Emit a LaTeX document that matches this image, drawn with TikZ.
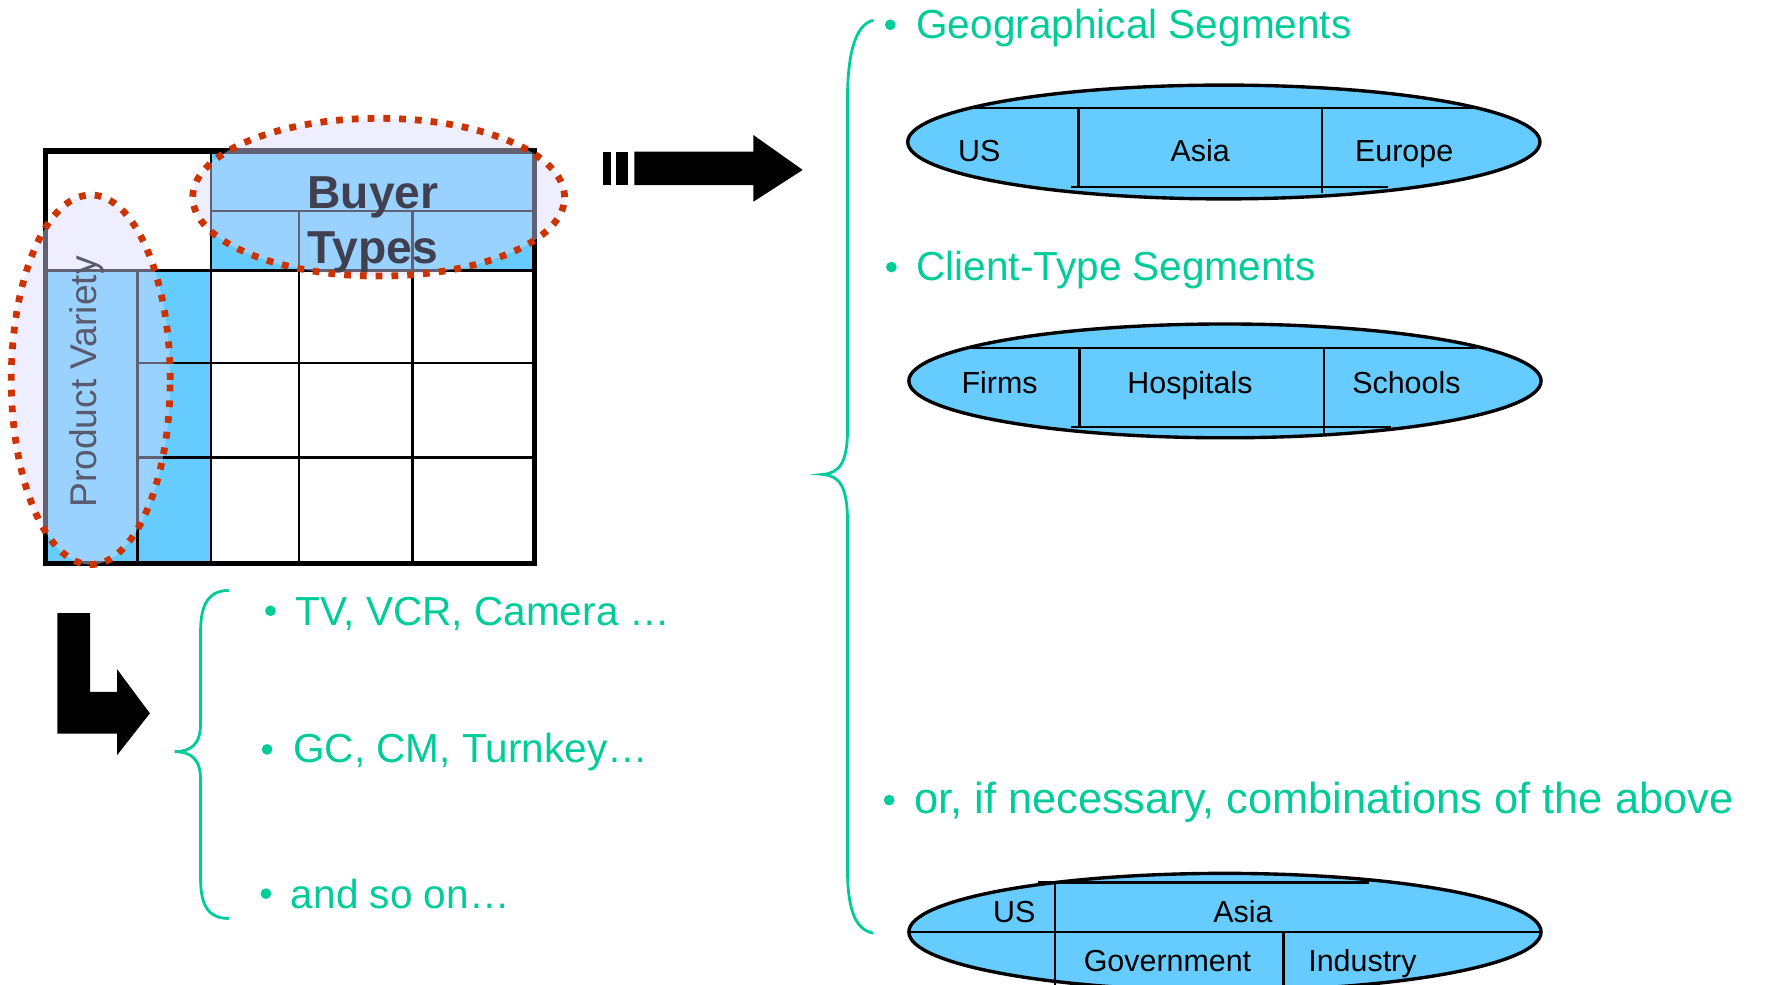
\documentclass[tikz,border=0pt]{standalone}
\usepackage{fontspec}
\setmainfont{Liberation Sans}
\usetikzlibrary{shapes.geometric}
\definecolor{skyb}{HTML}{66CCFF}
\definecolor{teal1}{HTML}{00CC99}
\definecolor{dotred}{HTML}{CC3300}
\definecolor{lav}{HTML}{D9D9FF}
\definecolor{hdrtext}{HTML}{404050}
\definecolor{pvtext}{HTML}{5A5A6E}
\begin{document}
\begin{tikzpicture}[x=1pt,y=-1pt,
  tline/.style={line width=2pt},
  bullettext/.style={anchor=base west, text=teal1, font=\fontsize{36}{40}\selectfont, inner sep=0},
  bulletdot/.style={circle, fill=teal1, minimum size=9.5pt, inner sep=0},
  segell/.style={ellipse, draw=black, line width=3pt, fill=skyb, minimum width=561pt, minimum height=101pt, inner sep=0},
  segtext/.style={anchor=base, font=\fontsize{27}{30}\selectfont, inner sep=0},
  segline/.style={line width=2pt},
  hilitefill/.style={ellipse, fill=lav, fill opacity=0.45, inner sep=0},
  hiliteborder/.style={ellipse, draw=dotred, line width=6pt, dash pattern=on 6pt off 8pt, inner sep=0},
  brace/.style={draw=teal1, line width=2.5pt},
  blockarrow/.style={fill=black}
]
\useasboundingbox (0,0) rectangle (1568,874);

% ---------- matrix table ----------
\fill[skyb] (187,134) rectangle (474,240);
\fill[skyb] (40,240) rectangle (187,500);
\draw[tline] (187,134) -- (187,500);
\draw[tline] (265,187) -- (265,500);
\draw[tline] (366,187) -- (366,500);
\draw[tline] (187,187) -- (474,187);
\draw[tline] (40,240) -- (474,240);
\draw[tline] (122,240) -- (122,500);
\draw[tline] (122,322) -- (474,322);
\draw[tline] (122,406) -- (474,406);
\draw[line width=4.5pt] (40,134) rectangle (474,500);

% translucent highlight fills
\node[hilitefill, minimum width=330pt, minimum height=140pt] (buyerfill) at (336,175) {};
\node[hilitefill, minimum width=141pt, minimum height=328pt] (pvfill) at (80.5,337) {};

\node[anchor=base, inner sep=0, text=hdrtext, font=\fontsize{41}{44}\selectfont\bfseries] (buyer) at (331,185) {Buyer};
\node[anchor=base, inner sep=0, text=hdrtext, font=\fontsize{41}{44}\selectfont\bfseries] (types) at (331,234) {Types};
\node[anchor=base, inner sep=0, rotate=90, text=pvtext, font=\fontsize{33}{36}\selectfont] (pv) at (86,339) {Product Variety};

% dotted highlight borders
\node[hiliteborder, minimum width=330pt, minimum height=140pt] (buyerell) at (336,175) {};
\node[hiliteborder, minimum width=141pt, minimum height=328pt] (pvell) at (80.5,337) {};

% ---------- block arrows ----------
\fill[blockarrow] (535.4,134.6) rectangle (541.9,164.2);
\fill[blockarrow] (546.6,134.6) rectangle (557.5,164.2);
\fill[blockarrow] (562.9,134.6) -- (668.5,134.6) -- (668.5,119.8) -- (712.3,150.8)
   -- (668.5,179) -- (668.5,164.2) -- (562.9,164.2) -- cycle;
\fill[blockarrow] (51,544) -- (80,544) -- (80,614) -- (104,614) -- (104,594)
   -- (133,633) -- (104,670) -- (104,651) -- (51,651) -- cycle;

% ---------- left brace and bullets ----------
\draw[brace] (203,524) .. controls (186,524) and (178,535) .. (178,560) -- (178,642)
   .. controls (178,660) and (170,667) .. (155,667)
   .. controls (170,667) and (178,674) .. (178,692) -- (178,780)
   .. controls (178,805) and (186,815) .. (203,815);
\node[bulletdot] (b1) at (240,542) {};
\node[bullettext] (t1) at (262,555) {TV, VCR, Camera …};
\node[bulletdot] (b2) at (237,665) {};
\node[bullettext] (t2) at (260,677) {GC, CM, Turnkey…};
\node[bulletdot] (b3) at (236,793) {};
\node[bullettext] (t3) at (258,806) {and so on…};

% ---------- right brace and bullets ----------
\draw[brace] (775,18) .. controls (758,22) and (752,50) .. (752,90) -- (752,382)
   .. controls (752,410) and (745,420) .. (730,421)
   .. controls (745,422) and (752,432) .. (752,462) -- (752,770)
   .. controls (752,805) and (758,825) .. (775,828);
\node[bulletdot] (b4) at (790,22) {};
\node[bullettext] (t4) at (813,34) {Geographical Segments};
\node[bulletdot] (b5) at (791,237) {};
\node[bullettext] (t5) at (813,249) {Client-Type Segments};
\node[bulletdot] (b6) at (789,710) {};
\node[bullettext, font=\fontsize{38.5}{42}\selectfont] (t6) at (811,722) {or, if necessary, combinations of the above};

% ---------- segment ellipses ----------
\node[segell] (geo) at (1086,126) {};
\draw[segline] (861,96) -- (1309,96);
\draw[segline] (950,166) -- (1232,166);
\draw[segline] (957,96) -- (957,166);
\draw[segline] (1173,96) -- (1173,171);
\node[segtext] (us1) at (869,143.5) {US};
\node[segtext] (asia1) at (1065,143.5) {Asia};
\node[segtext] (eur1) at (1246,143.5) {Europe};

\node[segell] (cli) at (1087,338) {};
\draw[segline] (861,309) -- (1311,309);
\draw[segline] (950,379) -- (1234,379);
\draw[segline] (958,309) -- (958,379);
\draw[segline] (1175,309) -- (1175,384);
\node[segtext] (firms) at (887,349) {Firms};
\node[segtext] (hosp) at (1056,349) {Hospitals};
\node[segtext] (sch) at (1248,349) {Schools};

\node[segell, minimum height=104pt] (comb) at (1087,827) {};
\draw[segline] (921,783) -- (1215,783);
\draw[segline] (807,827) -- (1367,827);
\draw[segline] (936,783) -- (936,880);
\draw[segline] (1139,827) -- (1139,880);
\node[segtext] (us3) at (900,819) {US};
\node[segtext] (asia3) at (1103,819) {Asia};
\node[segtext] (gov) at (1036,862) {Government};
\node[segtext] (ind) at (1209,862) {Industry};
\end{tikzpicture}
\end{document}
